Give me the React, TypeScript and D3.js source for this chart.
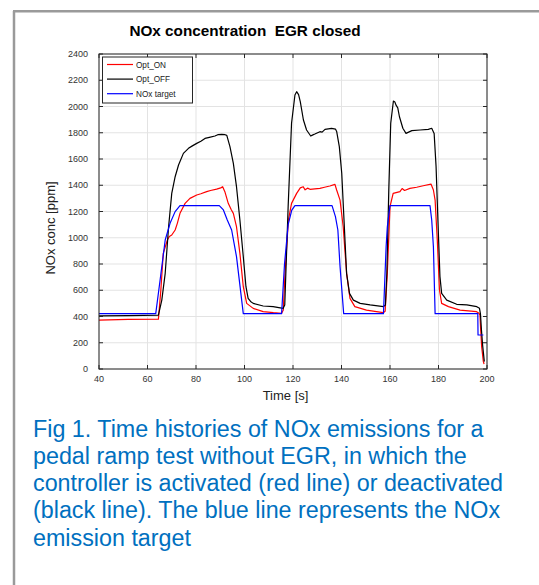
import React from "react";
import * as d3 from "d3";

// Opt_ON (controller active)
const optOnTime = [40, 52, 64.5, 65.5, 66.5, 68.2, 69, 70, 71.4, 72.3, 73.4, 75.5, 77.5, 80.3, 82, 84.4, 86, 88.5, 90.2, 91, 91.9, 93.3, 94.5, 95.4, 96.7, 98.1, 99.5, 100.9, 103.6, 107.7, 111.9, 115.3, 116, 116.7, 118.1, 119.4, 121.5, 123, 124.2, 125, 126, 127, 129, 131.1, 133, 135.2, 137.3, 138, 139.4, 140.7, 142.1, 143.5, 145.5, 150.3, 157.2, 158, 158.9, 160, 161.3, 164.1, 165, 166, 168.2, 171, 173.7, 176.9, 177.9, 178.6, 179.5, 180.4, 181.3, 184.1, 188.9, 195.7, 196.7, 197.1, 197.4, 197.8, 198.5, 198.8];
const optOnNox = [373, 378, 380, 600, 881, 983, 1010, 1021, 1059, 1110, 1186, 1262, 1300, 1326, 1335, 1351, 1360, 1371, 1380, 1389, 1351, 1262, 1215, 1186, 1084, 881, 627, 500, 462, 437, 429, 424, 450, 729, 1135, 1262, 1338, 1380, 1389, 1365, 1378, 1369, 1372, 1376, 1385, 1394, 1407, 1364, 1287, 1084, 729, 538, 475, 449, 429, 440, 729, 1237, 1338, 1351, 1375, 1360, 1376, 1385, 1396, 1409, 1364, 1287, 983, 602, 500, 475, 449, 437, 424, 411, 297, 170, 56, 38];

// Opt_OFF (controller inactive)
const optOffTime = [40, 52, 64.5, 65.9, 67.3, 68.7, 70, 71.4, 72.8, 74.8, 76.9, 78.5, 80.3, 82, 83.7, 85.5, 87.8, 89, 90.6, 92, 92.7, 94, 95.4, 96.7, 98.1, 99.5, 100.6, 101.5, 102.5, 103.6, 107.7, 111.8, 115.9, 116.6, 118, 119.4, 120.8, 121.5, 122.3, 123, 124.3, 125.6, 127.3, 128, 129, 131.1, 132, 133.2, 135.9, 137.5, 138, 139.1, 140.1, 141.1, 142.1, 143.3, 144.9, 147.7, 151.8, 157.3, 158.1, 158.7, 159.5, 160.3, 161.4, 162, 162.5, 163.2, 163.9, 165.3, 166.6, 169, 172.4, 175.8, 177.2, 178.2, 179, 179.8, 180.6, 181.3, 183.4, 187.5, 191.7, 195.8, 196.9, 197.3, 197.7, 198.2, 198.9];
const optOffNox = [404, 407, 411, 525, 729, 1084, 1338, 1465, 1554, 1643, 1681, 1700, 1719, 1735, 1757, 1765, 1775, 1785, 1788, 1785, 1780, 1694, 1567, 1389, 1135, 856, 627, 538, 515, 500, 480, 475, 462, 488, 1237, 1872, 2088, 2113, 2090, 2037, 1897, 1821, 1775, 1782, 1790, 1808, 1805, 1826, 1834, 1828, 1810, 1694, 1491, 1110, 729, 576, 525, 500, 488, 475, 488, 729, 1364, 1872, 2042, 2035, 2010, 1990, 1922, 1834, 1795, 1816, 1821, 1826, 1834, 1795, 1542, 1110, 704, 576, 525, 493, 488, 475, 462, 420, 300, 180, 56];

// NOx target
const targetTime = [40, 63.4, 65.2, 67.3, 69.3, 71.4, 73.4, 89.6, 91.3, 92.9, 94.7, 96.7, 99.5, 115.3, 116.5, 118, 119.5, 120.8, 136.1, 137.5, 138.5, 139.4, 140.9, 157.3, 158.4, 158.9, 160, 176.5, 177.2, 177.9, 178.6, 196.2, 196.3, 198.5];
const targetNox = [422, 422, 678, 983, 1110, 1199, 1245, 1245, 1212, 1135, 1059, 856, 422, 422, 800, 1100, 1210, 1245, 1245, 1161, 1059, 780, 422, 422, 932, 1084, 1245, 1245, 1135, 932, 422, 422, 259, 259];

const xTicks = [40, 60, 80, 100, 120, 140, 160, 180, 200];
const yTicks = [0, 200, 400, 600, 800, 1000, 1200, 1400, 1600, 1800, 2000, 2200, 2400];

const seriesNames = ["Opt_ON", "Opt_OFF", "NOx target"];
const seriesColors = ["#ff0000", "#000000", "#0000ff"];

const captionLines = [
  "Fig 1. Time histories of NOx emissions for a",
  "pedal ramp test without EGR, in which the",
  "controller is activated (red line) or deactivated",
  "(black line). The blue line represents the NOx",
  "emission target",
];

const W = 539;
const H = 585;
const plot = { left: 99, right: 487, top: 54, bottom: 369 };
const font = "Arial, 'Liberation Sans', Helvetica, sans-serif";

export default function App() {
  const x = d3.scaleLinear().domain([40, 200]).range([plot.left, plot.right]);
  const y = d3.scaleLinear().domain([0, 2400]).range([plot.bottom, plot.top]);

  const line = d3
    .line<[number, number]>()
    .x((d) => x(d[0]))
    .y((d) => y(d[1]));

  const zip = (ts: number[], vs: number[]) =>
    ts.map((t, i) => [t, vs[i]] as [number, number]);

  const series = [
    zip(optOnTime, optOnNox),
    zip(optOffTime, optOffNox),
    zip(targetTime, targetNox),
  ];

  const axisColor = "#262626";
  const gridColor = "#e3e3e3";
  const tickLen = 4;

  return (
    <svg
      width={W}
      height={H}
      viewBox={`0 0 ${W} ${H}`}
      style={{ position: "absolute", left: 0, top: 0, background: "#fff" }}
    >
      <rect x={0} y={0} width={W} height={H} fill="#fff" />
      {/* figure frame */}
      <line x1={14} y1={11} x2={14} y2={H} stroke="#9a9a9a" strokeWidth={2.5} />
      <line x1={13} y1={11.2} x2={W} y2={11.2} stroke="#9a9a9a" strokeWidth={2.5} />

      {/* title */}
      <text
        x={245}
        y={36}
        textAnchor="middle"
        fontFamily={font}
        fontWeight="bold"
        fontSize={15.3}
        fill="#000"
        style={{ whiteSpace: "pre" }}
      >
        {"NOx concentration  EGR closed"}
      </text>

      {/* plot background and grid */}
      <rect
        x={plot.left}
        y={plot.top}
        width={plot.right - plot.left}
        height={plot.bottom - plot.top}
        fill="#fff"
      />
      {xTicks.map((t) => (
        <line
          key={`gx${t}`}
          x1={x(t)}
          x2={x(t)}
          y1={plot.top}
          y2={plot.bottom}
          stroke={gridColor}
          strokeWidth={1}
        />
      ))}
      {yTicks.map((v) => (
        <line
          key={`gy${v}`}
          x1={plot.left}
          x2={plot.right}
          y1={y(v)}
          y2={y(v)}
          stroke={gridColor}
          strokeWidth={1}
        />
      ))}

      {/* data lines */}
      <defs>
        <clipPath id="plotClip">
          <rect
            x={plot.left}
            y={plot.top}
            width={plot.right - plot.left}
            height={plot.bottom - plot.top}
          />
        </clipPath>
      </defs>
      <g clipPath="url(#plotClip)">
        {series.map((s, i) => (
          <path
            key={seriesNames[i]}
            d={line(s) || ""}
            fill="none"
            stroke={seriesColors[i]}
            strokeWidth={1.2}
            strokeLinejoin="round"
          />
        ))}
      </g>

      {/* axes box with inward ticks */}
      <rect
        x={plot.left}
        y={plot.top}
        width={plot.right - plot.left}
        height={plot.bottom - plot.top}
        fill="none"
        stroke={axisColor}
        strokeWidth={1}
      />
      {xTicks.map((t) => (
        <g key={`tx${t}`}>
          <line x1={x(t)} x2={x(t)} y1={plot.bottom} y2={plot.bottom - tickLen} stroke={axisColor} />
          <line x1={x(t)} x2={x(t)} y1={plot.top} y2={plot.top + tickLen} stroke={axisColor} />
          <text
            x={x(t)}
            y={plot.bottom + 13}
            textAnchor="middle"
            fontFamily={font}
            fontSize={9}
            fill="#333"
          >
            {t}
          </text>
        </g>
      ))}
      {yTicks.map((v) => (
        <g key={`ty${v}`}>
          <line x1={plot.left} x2={plot.left + tickLen} y1={y(v)} y2={y(v)} stroke={axisColor} />
          <line x1={plot.right} x2={plot.right - tickLen} y1={y(v)} y2={y(v)} stroke={axisColor} />
          <text
            x={88}
            y={y(v) + 3}
            textAnchor="end"
            fontFamily={font}
            fontSize={9}
            fill="#333"
          >
            {v}
          </text>
        </g>
      ))}

      {/* axis labels */}
      <text
        x={285.5}
        y={400}
        textAnchor="middle"
        fontFamily={font}
        fontSize={13}
        fill="#222"
      >
        Time [s]
      </text>
      <text
        transform={`translate(55,228) rotate(-90)`}
        textAnchor="middle"
        fontFamily={font}
        fontSize={13}
        fill="#222"
      >
        NOx conc [ppm]
      </text>

      {/* legend */}
      <rect x={102.5} y={57} width={90} height={46} fill="#fff" stroke={axisColor} strokeWidth={1} />
      {seriesNames.map((name, i) => {
        const ly = 64.5 + i * 14.6;
        return (
          <g key={`lg${name}`}>
            <line x1={107} x2={133} y1={ly} y2={ly} stroke={seriesColors[i]} strokeWidth={1.2} />
            <text x={136} y={ly + 3} fontFamily={font} fontSize={8.2} fill="#222">
              {name}
            </text>
          </g>
        );
      })}

      {/* caption */}
      {captionLines.map((s, i) => (
        <text
          key={`cap${i}`}
          x={33}
          y={436.5 + i * 27.3}
          fontFamily={font}
          fontSize={23.3}
          fill="#0070c0"
        >
          {s}
        </text>
      ))}
    </svg>
  );
}
